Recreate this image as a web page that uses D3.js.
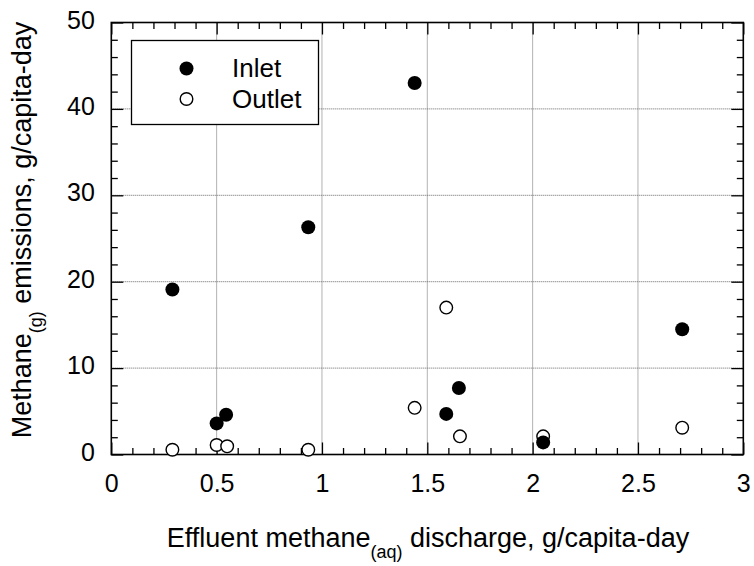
<!DOCTYPE html>
<html><head><meta charset="utf-8">
<script src="https://cdn.jsdelivr.net/npm/d3@7"></script>
<style>body{margin:0;background:#fff}svg{display:block}text{font-family:"Liberation Sans",Arial,sans-serif;fill:#000}</style>
</head><body><div id="chart"></div>
<script>
const inletX = [0.29, 0.50, 0.545, 0.935, 1.44, 1.59, 1.65, 2.05, 2.71];
const inletY = [19.1, 3.6, 4.6, 26.3, 43.0, 4.7, 7.7, 1.4, 14.5];
const outletX = [0.29, 0.50, 0.55, 0.935, 1.44, 1.59, 1.655, 2.05, 2.71];
const outletY = [0.55, 1.1, 0.95, 0.55, 5.4, 17.0, 2.1, 2.1, 3.1];
const xTicks = [0, 0.5, 1, 1.5, 2, 2.5, 3];
const yTicks = [0, 10, 20, 30, 40, 50];
const seriesNames = ["Inlet", "Outlet"];

const W = 754, H = 566;
const m = {l: 111.3, r: 10.7, t: 22.5, b: 111.5};
const svg = d3.select("#chart").append("svg").attr("width", W).attr("height", H);
const x = d3.scaleLinear().domain([0, 3]).range([m.l, W - m.r]);
const y = d3.scaleLinear().domain([0, 50]).range([H - m.b, m.t]);
const x0 = x(0), x1 = x(3), y0 = y(0), y1 = y(50);

// grid
const g = svg.append("g");
g.selectAll(".gx").data(xTicks.slice(1, -1)).join("line")
  .attr("x1", d => x(d)).attr("x2", d => x(d)).attr("y1", y0).attr("y2", y1)
  .attr("stroke", "#666").attr("stroke-width", 1).attr("stroke-dasharray", "1,1");
g.selectAll(".gy").data(yTicks.slice(1, -1)).join("line")
  .attr("y1", d => y(d)).attr("y2", d => y(d)).attr("x1", x0).attr("x2", x1)
  .attr("stroke", "#666").attr("stroke-width", 1).attr("stroke-dasharray", "1,1");

// axes with inward ticks
const xMinor = d3.range(0, 3.0001, 0.1).filter(v => Math.abs(v*2 - Math.round(v*2)) > 1e-6);
const yMinor = d3.range(0, 50.0001, 2).filter(v => v % 10 !== 0);
const fmt = d => String(d);
function addAxis(axisFn, scale, tr, ticks, minor, labels) {
  const a1 = svg.append("g").attr("transform", tr)
    .call(axisFn(scale).tickValues(ticks).tickSize(-12).tickFormat(labels ? fmt : ""));
  const a2 = svg.append("g").attr("transform", tr)
    .call(axisFn(scale).tickValues(minor).tickSize(-6.5).tickFormat(""));
  [a1, a2].forEach(a => {
    a.select(".domain").remove();
    a.selectAll(".tick line").attr("stroke", "#000").attr("stroke-width", 1.3);
  });
  return a1;
}
const xb = addAxis(d3.axisBottom, x, `translate(0,${y0})`, xTicks, xMinor, true);
xb.selectAll(".tick text").attr("y", 37).attr("dy", 0).style("font-size", "25px");
addAxis(d3.axisTop, x, `translate(0,${y1})`, xTicks, xMinor, false);
const yl = addAxis(d3.axisLeft, y, `translate(${x0},0)`, yTicks, yMinor, true);
yl.selectAll(".tick text").attr("x", -16.5).attr("dy", "0.22em").style("font-size", "25px");
addAxis(d3.axisRight, y, `translate(${x1},0)`, yTicks, yMinor, false);
svg.append("rect").attr("x", x0).attr("y", y1).attr("width", x1 - x0).attr("height", y0 - y1)
  .attr("fill", "none").attr("stroke", "#000").attr("stroke-width", 1.6);

// points
const inlet = inletX.map((v, i) => ({x: v, y: inletY[i]}));
const outlet = outletX.map((v, i) => ({x: v, y: outletY[i]}));
svg.append("g").selectAll("circle").data(outlet).join("circle")
  .attr("cx", d => x(d.x)).attr("cy", d => y(d.y)).attr("r", 6.3)
  .attr("fill", "#fff").attr("stroke", "#000").attr("stroke-width", 1.4);
svg.append("g").selectAll("circle").data(inlet).join("circle")
  .attr("cx", d => x(d.x)).attr("cy", d => y(d.y)).attr("r", 7)
  .attr("fill", "#000");

// legend
const lg = svg.append("g");
lg.append("rect").attr("x", 131.5).attr("y", 40.5).attr("width", 187).attr("height", 84)
  .attr("fill", "#fff").attr("stroke", "#000").attr("stroke-width", 1.3);
lg.append("circle").attr("cx", 186.5).attr("cy", 68.5).attr("r", 7).attr("fill", "#000");
lg.append("circle").attr("cx", 186.5).attr("cy", 99).attr("r", 6.3).attr("fill", "#fff")
  .attr("stroke", "#000").attr("stroke-width", 1.4);
lg.append("text").attr("x", 232).attr("y", 76.5).style("font-size", "26px").text(seriesNames[0]);
lg.append("text").attr("x", 232).attr("y", 107.5).style("font-size", "26px").text(seriesNames[1]);

// axis titles
const xt = svg.append("text").attr("x", 428).attr("y", 547)
  .attr("text-anchor", "middle").style("font-size", "27px");
xt.append("tspan").text("Effluent methane");
xt.append("tspan").attr("dy", 11).style("font-size", "18px").text("(aq)");
xt.append("tspan").attr("dy", -11).text(" discharge, g/capita-day");

const yt = svg.append("text").attr("transform", `translate(31,230) rotate(-90)`)
  .attr("text-anchor", "middle").style("font-size", "27px");
yt.append("tspan").text("Methane");
yt.append("tspan").attr("dy", 11).style("font-size", "18px").text("(g)");
yt.append("tspan").attr("dy", -11).text(" emissions, g/capita-day");
</script></body></html>
